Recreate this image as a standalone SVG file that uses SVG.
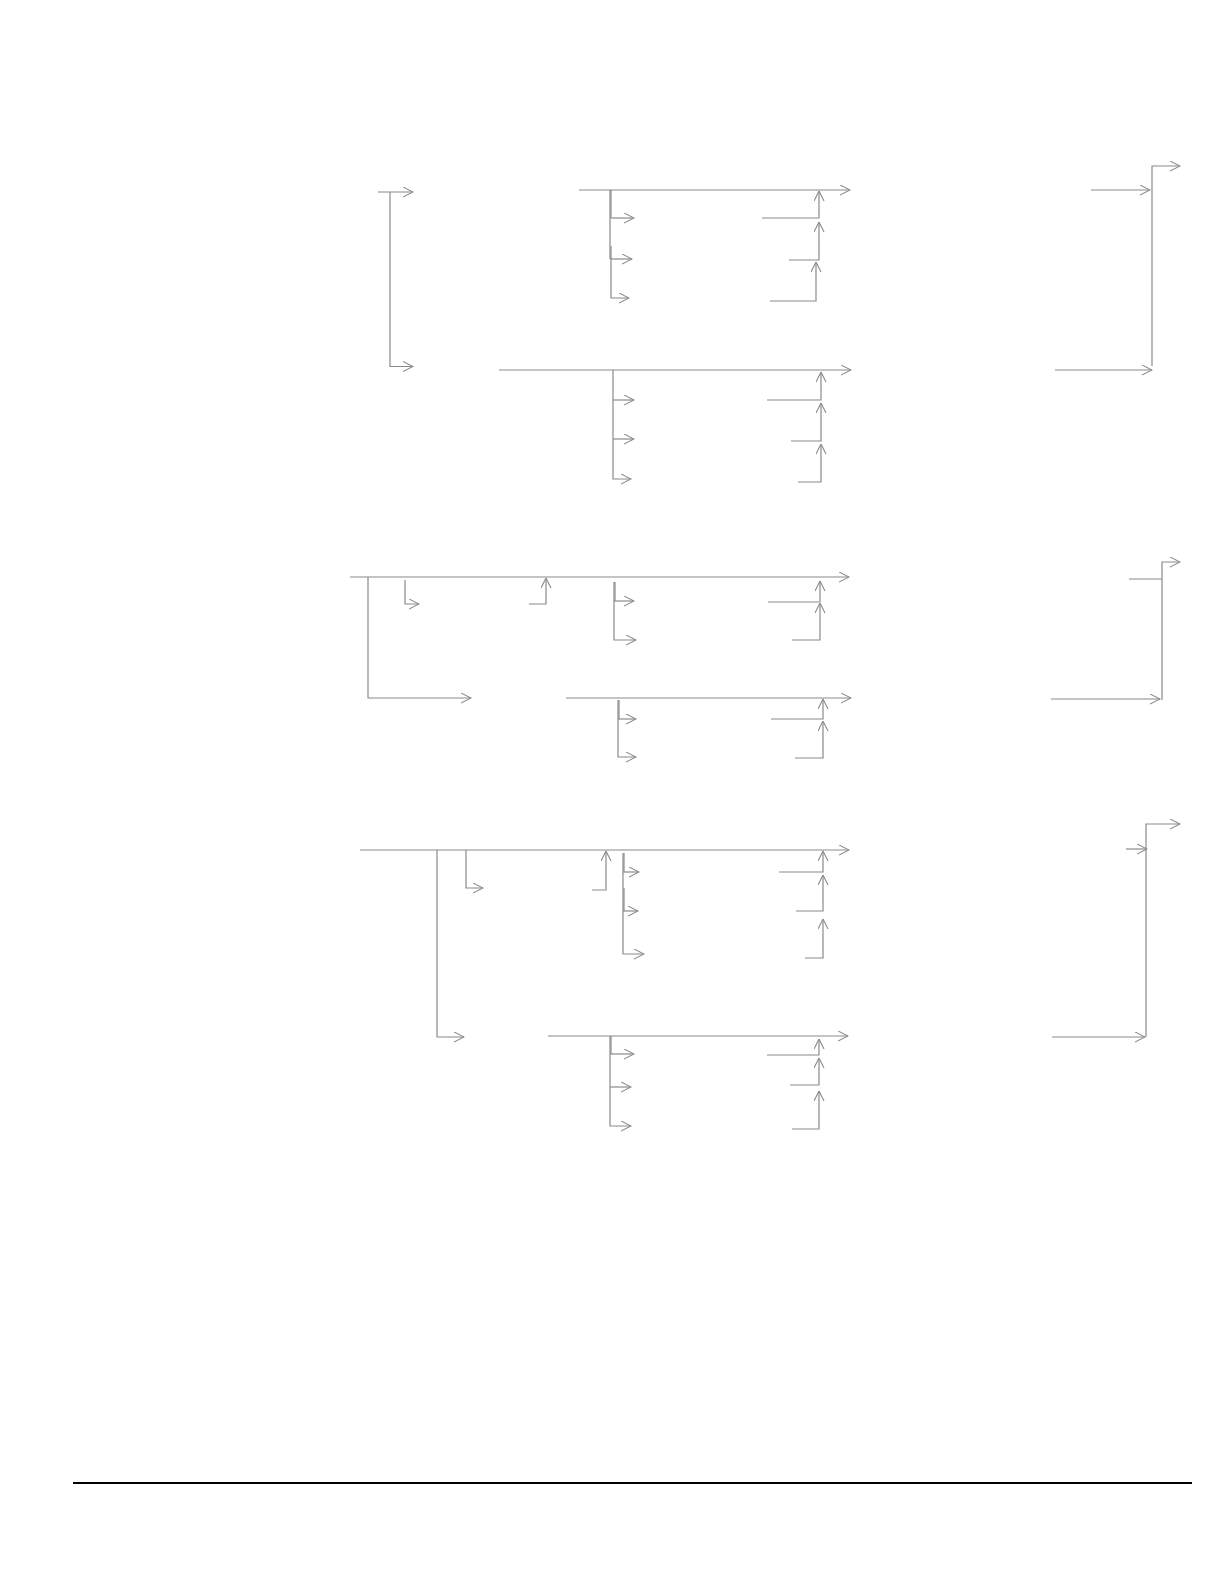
<svg xmlns="http://www.w3.org/2000/svg" width="1224" height="1582" viewBox="0 0 1224 1582">
<defs>
<marker id="ah" viewBox="0 0 11 11" refX="10.5" refY="5.5" markerWidth="11" markerHeight="11" markerUnits="userSpaceOnUse" orient="auto">
<path d="M0.5,0.5 L10.5,5.5 L0.5,10.5" fill="none" stroke="#8a8a8a" stroke-width="1.1"/>
</marker>
</defs>
<style>
.c{fill:none;stroke:#8a8a8a;stroke-width:1.2}
.a{marker-end:url(#ah)}
.rule{stroke:#000;stroke-width:2.2}
</style>
<rect width="1224" height="1582" fill="#fff"/>
<g id="connectors">
<!-- section 1 -->
<path class="c a" d="M378,192 H413"/>
<path class="c a" d="M390,192 V366.5 H413"/>
<path class="c a" d="M579,190 H850"/>
<path class="c" d="M610,190 V259"/>
<path class="c" d="M611,190 V217"/>
<path class="c a" d="M610,218 H634"/>
<path class="c a" d="M610,259 H632"/>
<path class="c a" d="M611,246 V298 H629"/>
<path class="c a" d="M762,218 H819 V191"/>
<path class="c a" d="M789,260 H819 V222"/>
<path class="c a" d="M770,301 H816 V262"/>
<path class="c a" d="M1091,190 H1150"/>
<path class="c a" d="M1055,370 H1152"/>
<path class="c a" d="M1152,366 V166 H1180"/>
<!-- section 2 -->
<path class="c a" d="M499,370 H851"/>
<path class="c a" d="M613,370 V479 H631"/>
<path class="c a" d="M613,400 H634"/>
<path class="c a" d="M613,439 H634"/>
<path class="c a" d="M767,400 H821 V372"/>
<path class="c a" d="M791,441 H821 V403"/>
<path class="c a" d="M798,482 H821 V444"/>
<!-- section 3 -->
<path class="c a" d="M350,577 H849"/>
<path class="c a" d="M368,577 V698 H471"/>
<path class="c a" d="M405,580 V604 H419"/>
<path class="c a" d="M529,604 H546 V578"/>
<path class="c" d="M615,582 V601"/>
<path class="c a" d="M614,582 V640 H636"/>
<path class="c a" d="M614,601 H634"/>
<path class="c a" d="M768,602 H820 V581"/>
<path class="c a" d="M792,640 H820 V603"/>
<path class="c a" d="M566,698 H851"/>
<path class="c" d="M619,700 V719"/>
<path class="c a" d="M618,700 V757 H636"/>
<path class="c a" d="M618,719 H636"/>
<path class="c a" d="M771,719 H823 V699"/>
<path class="c a" d="M795,758 H823 V721"/>
<path class="c" d="M1129,579 H1162"/>
<path class="c a" d="M1162,700 V562 H1180"/>
<path class="c a" d="M1051,699 H1160"/>
<!-- section 4 -->
<path class="c a" d="M360,850 H849"/>
<path class="c a" d="M437,850 V1037 H464"/>
<path class="c a" d="M466,850 V888 H483"/>
<path class="c a" d="M592,890 H606 V851"/>
<path class="c" d="M624,853 V872"/>
<path class="c" d="M624,888 V911"/>
<path class="c a" d="M623,853 V954 H644"/>
<path class="c a" d="M623,872 H639"/>
<path class="c a" d="M623,911 H638"/>
<path class="c a" d="M779,872 H823 V851"/>
<path class="c a" d="M796,911 H823 V875"/>
<path class="c a" d="M805,958 H823 V919"/>
<path class="c a" d="M548,1036 H848"/>
<path class="c" d="M611,1036 V1054"/>
<path class="c a" d="M610,1036 V1126 H631"/>
<path class="c a" d="M610,1054 H634"/>
<path class="c a" d="M610,1087 H631"/>
<path class="c a" d="M767,1055 H819 V1039"/>
<path class="c a" d="M790,1085 H819 V1058"/>
<path class="c a" d="M792,1129 H819 V1091"/>
<path class="c a" d="M1126,849 H1147"/>
<path class="c a" d="M1146,1037 V824 H1180"/>
<path class="c a" d="M1052,1037 H1145"/>
</g>
<line class="rule" x1="73" y1="1483" x2="1192" y2="1483"/>
</svg>
